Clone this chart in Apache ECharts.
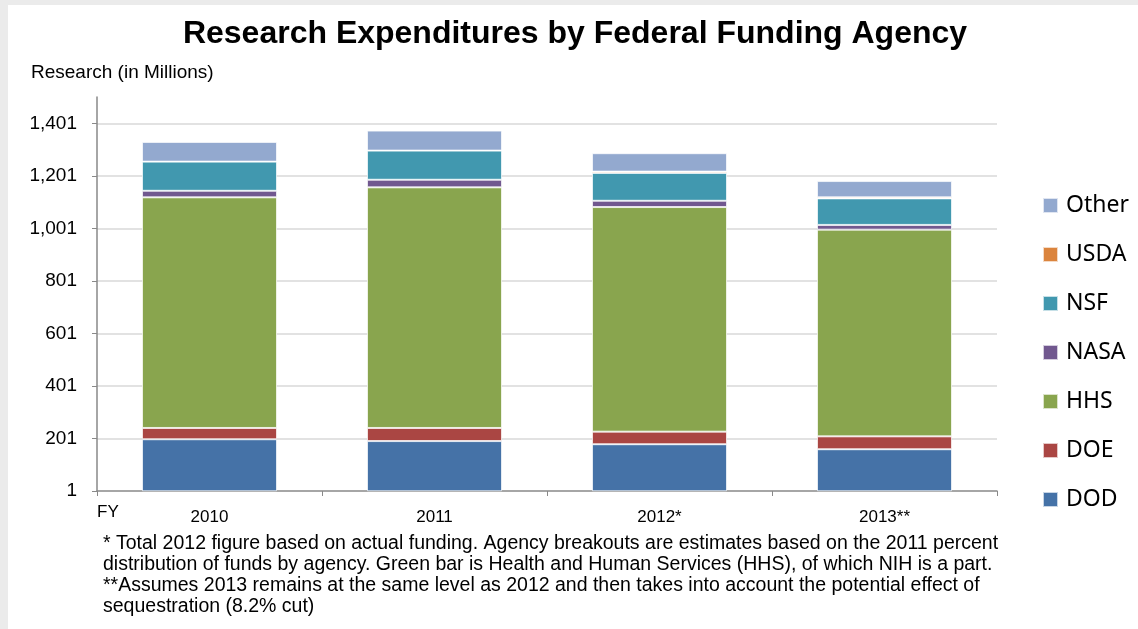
<!DOCTYPE html>
<html>
<head>
<meta charset="utf-8">
<script src="https://cdn.jsdelivr.net/npm/echarts@6/dist/echarts.min.js"></script>
<style>
  html, body { margin: 0; padding: 0; background: #ebebeb; }
  #chart { position: absolute; left: 8px; top: 5px; width: 1130px; height: 624px; background: #fff; }
</style>
</head>
<body>
<div id="chart"></div>
<script>
// fiscal years
const years = ["2010", "2011", "2012*", "2013**"];

// research expenditures per agency, in millions
const dod = [198, 191, 179, 160];
const doe = [43, 50, 48, 49];
const hhs = [878, 916, 855, 787];
const nasa = [25, 29, 24, 18];
const nsf = [111, 111, 106, 101];
const usda = [0, 0, 5, 4];
const other = [75, 76, 70, 62];

const yTicks = [1, 201, 401, 601, 801, 1001, 1201, 1401];

const footnote = [
  "* Total 2012 figure based on actual funding. Agency breakouts are estimates based on the 2011 percent",
  "distribution of funds by agency. Green bar is Health and Human Services (HHS), of which NIH is a part.",
  "**Assumes 2013 remains at the same level as 2012 and then takes into account the potential effect of",
  "sequestration (8.2% cut)",
];

const font = "'Liberation Sans', Arial, sans-serif";

const mkSeries = (name, data, color) => ({
  name: name,
  type: "bar",
  stack: "total",
  data: data,
  barCategoryGap: "40%",
  itemStyle: { color: color, borderColor: "rgba(255,255,255,0.7)", borderWidth: 1 },
  emphasis: { disabled: true },
});

const chart = echarts.init(document.getElementById("chart"));

const option = {
  animation: false,
  title: {
    text: "Research Expenditures by Federal Funding Agency",
    left: 562,
    textAlign: "center",
    top: 8,
    textStyle: { fontFamily: font, fontWeight: "bold", fontSize: 32, color: "#000" },
  },
  legend: {
    orient: "vertical",
    left: 1034,
    top: 189,
    padding: 0,
    itemWidth: 15,
    itemHeight: 15,
    itemGap: 26,
    icon: "rect",
    data: ["Other", "USDA", "NSF", "NASA", "HHS", "DOE", "DOD"],
    textStyle: {
      fontFamily: "'Noto Sans', sans-serif",
      fontSize: 23,
      color: "#000",
      lineHeight: 20,
      padding: [0, 0, 0, 3],
    },
  },
  grid: { left: 89, top: 92, width: 900, height: 394 },
  xAxis: {
    type: "category",
    data: years,
    axisLine: { lineStyle: { color: "#898989", width: 1.5 } },
    axisTick: { show: true, length: 5, lineStyle: { color: "#898989" } },
    axisLabel: { margin: 18, fontFamily: font, fontSize: 17, color: "#000" },
  },
  yAxis: {
    type: "value",
    min: 1,
    max: 1501,
    interval: 200,
    axisLine: { show: true, lineStyle: { color: "#898989", width: 1.5 } },
    axisTick: { show: true, length: 5, lineStyle: { color: "#898989" } },
    splitLine: { show: true, showMaxLine: false, showMinLine: false, lineStyle: { color: "#d9d9d9", width: 1.5 } },
    axisLabel: {
      margin: 20,
      showMaxLabel: false,
      fontFamily: font,
      fontSize: 19,
      color: "#000",
      formatter: (v) => (yTicks.indexOf(v) >= 0 ? v.toLocaleString("en-US") : ""),
    },
  },
  graphic: [
    {
      type: "text",
      left: 23,
      top: 58,
      style: { text: "Research (in Millions)", font: "19px " + font, fill: "#000" },
    },
    {
      type: "text",
      left: 89,
      top: 499,
      style: { text: "FY", font: "17px " + font, fill: "#000" },
    },
    {
      type: "text",
      left: 95,
      top: 528,
      style: { text: footnote.join("\n"), font: "19.5px " + font, fill: "#000", lineHeight: 21 },
    },
  ],
  series: [
    mkSeries("DOD", dod, "#4572a7"),
    mkSeries("DOE", doe, "#aa4643"),
    mkSeries("HHS", hhs, "#89a54e"),
    mkSeries("NASA", nasa, "#71588f"),
    mkSeries("NSF", nsf, "#4198af"),
    mkSeries("USDA", usda, "#db843d"),
    mkSeries("Other", other, "#93a9cf"),
  ],
};

chart.setOption(option);
</script>
</body>
</html>
